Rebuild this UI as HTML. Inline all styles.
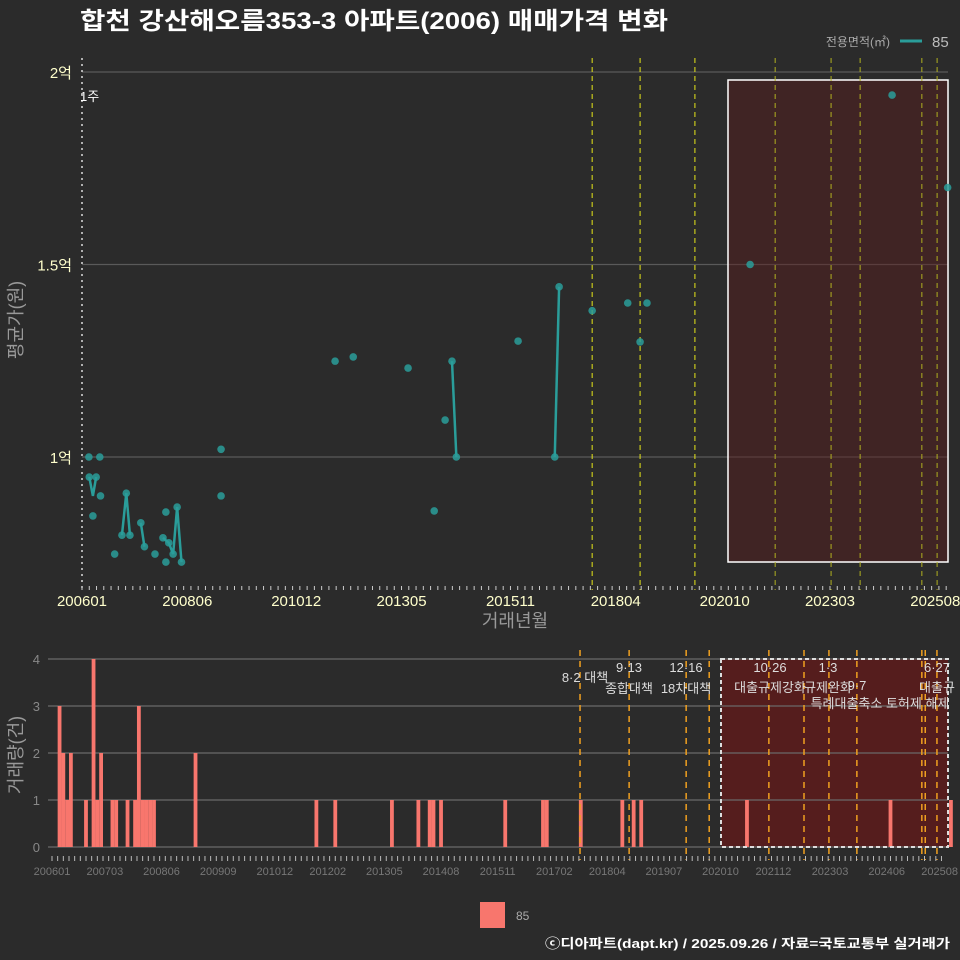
<!DOCTYPE html>
<html><head><meta charset="utf-8">
<style>
html,body{margin:0;padding:0;background:#2b2b2b;overflow:hidden;width:960px;height:960px;}
svg{display:block;}
svg text{font-family:"Liberation Sans","Noto Sans CJK KR",sans-serif;}
</style></head>
<body>
<svg id="chart" width="960" height="960" viewBox="0 0 960 960" xmlns="http://www.w3.org/2000/svg">
<rect x="0" y="0" width="960" height="960" fill="#2b2b2b"/>
<text x="80" y="29" fill="#ffffff" font-size="24" font-weight="bold" textLength="588" lengthAdjust="spacingAndGlyphs">합천 강산해오름353-3 아파트(2006) 매매가격 변화</text>
<text x="890" y="46" fill="#aaaaaa" font-size="12" text-anchor="end">전용면적(㎡)</text>
<line x1="900" y1="41" x2="922" y2="41" stroke="#2a9d9a" stroke-width="3"/>
<text x="932" y="47" fill="#bbbbbb" font-size="15">85</text>
<g id="topPanel"></g>
<g id="botPanel"></g>
<rect x="480" y="902" width="25" height="26" fill="#f8766d"/>
<text x="516" y="920" fill="#aaaaaa" font-size="12">85</text>
<text x="545" y="948" fill="#ffffff" font-size="13" font-weight="bold" textLength="405" lengthAdjust="spacingAndGlyphs">ⓒ디아파트(dapt.kr) / 2025.09.26 / 자료=국토교통부 실거래가</text>
</svg>
<script>
// months since 2006-01
const pointMonths = [1.9,4.9,2,3.9,3,5.1,9,11,13.2,12.2,16.2,17.2,20.1,23.1,22.3,23.1,23.9,25.1,26.2,27.4,38.3,38.3,69.7,74.7,89.8,97,100,101.9,103.1,120.1,130.2,131.4,140.5,150.3,153.7,155.6,184,223.1,238.4];
const pointValues = [10000,10000,9480,9480,8470,8990,7480,7970,7970,9060,8290,7670,7480,8570,7900,7270,7770,7480,8700,7270,10200,8990,12490,12600,12310,8600,10960,12490,10000,13010,10000,14420,13800,14000,12990,14000,15000,19400,17000];
const lineGroups = [[[2,9480],[3,8990],[3.9,9480]],[[11,7970],[12.2,9060],[13.2,7970]],[[16.2,8290],[17.2,7670]],[[22.3,7900],[23.9,7770],[25.1,7480],[26.2,8700],[27.4,7270]],[[101.9,12490],[103.1,10000]],[[130.2,10000],[131.4,14420]]];
const yTicks = [10000,15000,20000];
const yTickLabels = ["1억","1.5억","2억"];
const xTickMonths = [0,29,59,88,118,147,177,206,235];
const xTickLabels = ["200601","200806","201012","201305","201511","201804","202010","202303","202508"];
const topPolicyMonths = [140.5,153.7,168.8,190.9,206.3,214.3,231.3,235.5];
const barMonths = [2,3,4,5,9,11,12,13,16,17,20,22,23,24,25,26,27,38,70,75,90,97,100,101,103,120,130,131,140,151,154,156,184,222,238];
const barCounts = [3,2,1,2,1,4,1,2,1,1,1,1,3,1,1,1,1,2,1,1,1,1,1,1,1,1,1,1,1,1,1,1,1,1,1];
const botTickMonths = [0,14,29,44,59,73,88,103,118,133,147,162,177,191,206,221,235];
const botTickLabels = ["200601","200703","200806","200909","201012","201202","201305","201408","201511","201702","201804","201907","202010","202112","202303","202406","202508"];
const botPolicyMonths = [139.8,152.8,167.9,174,189.8,199.1,205.7,213.1,230.3,231.2,234.3];
const countTicks = [0,1,2,3,4];

const NS="http://www.w3.org/2000/svg";
function mk(parent,tag,attrs,text){const e=document.createElementNS(NS,tag);for(const k in attrs)e.setAttribute(k,attrs[k]);if(text!==undefined)e.textContent=text;parent.appendChild(e);return e;}
const xT=m=>82+m*3.631, yT=v=>457-(v-10000)*0.0385;
const xB=m=>52+m*3.777, yB=c=>847-c*47;
const topG=document.getElementById('topPanel'), botG=document.getElementById('botPanel');

// top panel
for(let i=0;i<yTicks.length;i++){
  const g=mk(topG,'line',{x1:82,x2:948,y1:yT(yTicks[i]),y2:yT(yTicks[i]),stroke:'#5a5a5a','stroke-width':1.2});
  
  
  const t=mk(topG,'text',{x:72,y:yT(yTicks[i])+6,fill:'#ffffcc','font-size':15,'text-anchor':'end'},yTickLabels[i]);
  
  
}
const rt=mk(topG,'rect',{x:728,y:80,width:220,height:482,fill:'#5a1c1c','fill-opacity':0.45,stroke:'#ffffff','stroke-width':1.5});


const dl=mk(topG,'line',{x1:82,x2:82,y1:58,y2:590,stroke:'#dddddd','stroke-width':1.5,'stroke-dasharray':'2,4'});


const dt=mk(topG,'text',{x:80,y:101,fill:'#ffffff','font-size':13},'1주');


topPolicyMonths.forEach(m=>{
  const inside = xT(m)>728;
  const l=mk(topG,'line',{x1:xT(m),x2:xT(m),y1:58,y2:590,stroke:inside?'#b0b020':'#e6e619','stroke-width':1,'stroke-dasharray':'5,4'});
  
  
});
lineGroups.forEach(g=>{
  const p=mk(topG,'polyline',{points:g.map(d=>xT(d[0])+','+yT(d[1])).join(' '),fill:'none',stroke:'#2a9d9a','stroke-width':2.5});
  
  
});
for(let i=0;i<pointMonths.length;i++){
  const c=mk(topG,'circle',{cx:xT(pointMonths[i]),cy:yT(pointValues[i]),r:3.8,fill:'#2a9d9a','fill-opacity':0.85});
  
  
}
for(let m=0;m<=238;m+=2){
  const k=mk(topG,'line',{x1:xT(m),x2:xT(m),y1:586,y2:590,stroke:'#cccccc','stroke-width':1});
  
  
}
for(let i=0;i<xTickMonths.length;i++){
  const t=mk(topG,'text',{x:xT(xTickMonths[i]),y:606,fill:'#ffffcc','font-size':15,'text-anchor':'middle'},xTickLabels[i]);
  
  
}
const xt=mk(topG,'text',{x:515,y:627,fill:'#999999','font-size':18,'text-anchor':'middle'},'거래년월');


const yt=mk(topG,'text',{x:22,y:320,fill:'#999999','font-size':18,'text-anchor':'middle',transform:'rotate(-90 22 320)'},'평균가(원)');



// bottom panel
const rb=mk(botG,'rect',{x:721,y:659,width:227,height:188,fill:'#5a1c1c','fill-opacity':0.9});


countTicks.forEach(c=>{
  const g=mk(botG,'line',{x1:48,x2:948,y1:yB(c),y2:yB(c),stroke:'#6a6a6a','stroke-width':1.2});
  
  
  const t=mk(botG,'text',{x:40,y:yB(c)+5,fill:'#888888','font-size':13,'text-anchor':'end'},String(c));
  
  
});
for(let i=0;i<barMonths.length;i++){
  const b=mk(botG,'rect',{x:xB(barMonths[i])-1.9,y:yB(barCounts[i]),width:3.8,height:847-yB(barCounts[i]),fill:'#f8766d'});
  
  
}
botPolicyMonths.forEach(m=>{
  const l=mk(botG,'line',{x1:xB(m),x2:xB(m),y1:650,y2:860,stroke:'#f0a020','stroke-width':1.5,'stroke-dasharray':'6,5'});
  
  
});
const rbo=mk(botG,'rect',{x:721,y:659,width:227,height:188,fill:'none',stroke:'#dddddd','stroke-width':2,'stroke-dasharray':'4,3'});


for(let m=0;m<=236;m+=1.5){
  const k=mk(botG,'line',{x1:xB(m),x2:xB(m),y1:856,y2:861,stroke:'#bbbbbb','stroke-width':1});
  
  
}
for(let i=0;i<botTickMonths.length;i++){
  const t=mk(botG,'text',{x:xB(botTickMonths[i]),y:875,fill:'#777777','font-size':11,'text-anchor':'middle'},botTickLabels[i]);
  
  
}
const anns=[[585,682,'8·2 대책'],[629,672,'9·13'],[629,693,'종합대책'],[686,672,'12·16'],[686,693,'18차대책'],[770,672,'10·26'],[770,692,'대출규제강화'],[828,672,'1·3'],[828,692,'규제완화'],[857,690,'9·7'],[880,708,'특례대출축소 토허제 해제'],[937,672,'6·27'],[937,692,'대출규']];
anns.forEach(a=>{
  const t=mk(botG,'text',{x:a[0],y:a[1],fill:'#dddddd','font-size':13,'text-anchor':'middle'},a[2]);
  
  
});
const byt=mk(botG,'text',{x:22,y:755,fill:'#999999','font-size':18,'text-anchor':'middle',transform:'rotate(-90 22 755)'},'거래량(건)');


</script>
</body></html>
